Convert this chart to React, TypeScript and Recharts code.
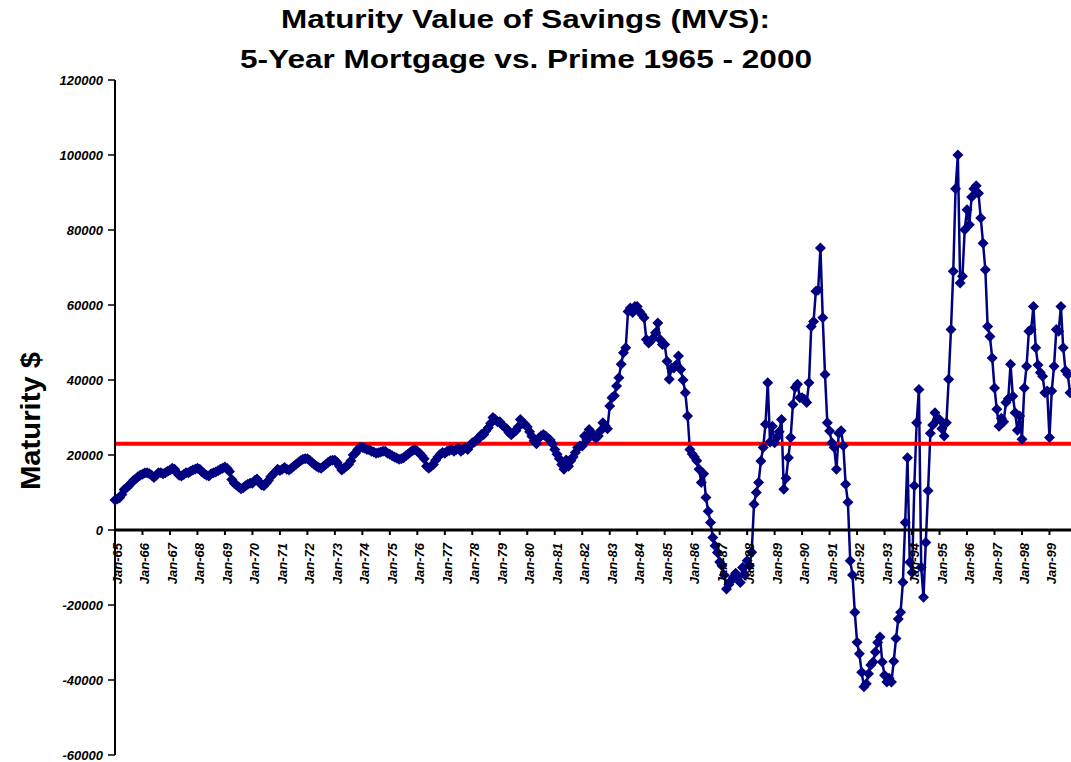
import { LineChart, Line, XAxis, YAxis, ReferenceLine } from 'recharts';

// monthly MVS values, Jan..Dec of each year
const mvs1965 = [8000, 8300, 8600, 9500, 10800, 11200, 11800, 12500, 13200, 13600, 14200, 14600];
const mvs1966 = [14900, 15200, 15300, 15000, 14600, 14000, 14600, 15300, 15300, 15000, 15300, 15700];
const mvs1967 = [16000, 16500, 16200, 15300, 14600, 14400, 14800, 15300, 15300, 15700, 16000, 16200];
const mvs1968 = [16500, 16200, 15500, 15000, 14600, 14400, 15000, 15300, 15500, 15800, 16200, 16500];
const mvs1969 = [16800, 16400, 15600, 13500, 12500, 12000, 11500, 11000, 11300, 11800, 12200, 12500];
const mvs1970 = [12500, 13200, 13600, 12800, 12000, 11800, 12500, 13200, 14200, 14900, 15500, 16200];
const mvs1971 = [15900, 16200, 16700, 16200, 16000, 16500, 17000, 17500, 18000, 18500, 18900, 19000];
const mvs1972 = [19000, 18600, 18000, 17500, 17000, 16700, 16500, 17000, 17500, 18000, 18500, 18600];
const mvs1973 = [18600, 18000, 17000, 16000, 16500, 17000, 17500, 18500, 20000, 20500, 21500, 22000];
const mvs1974 = [22000, 21800, 21500, 21400, 21000, 20800, 20500, 20600, 20800, 21000, 21000, 20500];
const mvs1975 = [20200, 19800, 19500, 19200, 18900, 19000, 19300, 19800, 20300, 20800, 21200, 21400];
const mvs1976 = [21000, 20500, 19800, 19000, 17000, 16500, 17000, 17500, 18600, 19500, 20200, 20700];
const mvs1977 = [20500, 21000, 21200, 21500, 21000, 21500, 21800, 21000, 21500, 22000, 21500, 22500];
const mvs1978 = [23300, 23500, 24200, 24500, 25500, 25500, 26500, 27300, 28500, 30000, 29500, 28900];
const mvs1979 = [28900, 28000, 27500, 27000, 26000, 25400, 26000, 26500, 27500, 29500, 28500, 28200];
const mvs1980 = [27500, 26200, 25000, 23800, 23000, 24500, 25100, 25500, 25100, 24500, 24000, 23000];
const mvs1981 = [21500, 20200, 19000, 17500, 16200, 18700, 17000, 18500, 19500, 20700, 22000, 22400];
const mvs1982 = [22400, 25100, 24000, 26800, 26000, 25000, 24500, 25100, 26500, 28600, 27800, 27000];
const mvs1983 = [33100, 35300, 35800, 38400, 40600, 44200, 47300, 48600, 58300, 59200, 58000, 59600];
const mvs1984 = [59600, 58300, 57500, 56600, 50800, 49900, 50500, 51200, 52600, 55200, 50800, 49500];
const mvs1985 = [49500, 45000, 40200, 43200, 43200, 44000, 46400, 42800, 40000, 36600, 30400, 21500];
const mvs1986 = [20300, 19500, 18500, 16200, 12700, 15000, 8700, 5000, 2000, -2000, -4200, -6000];
const mvs1987 = [-8500, -9500, -12000, -15700, -14500, -13500, -12500, -11500, -12500, -14000, -10000, -12000];
const mvs1988 = [-8200, -9500, -5900, 6900, 10000, 12700, 18400, 22000, 28200, 39300, 23500, 27700];
const mvs1989 = [23300, 24700, 26200, 29500, 10900, 13800, 19300, 24700, 33500, 38000, 38900, 35300];
const mvs1990 = [35300, 34900, 34000, 39300, 54300, 55600, 63700, 64000, 75200, 56600, 41500, 28600];
const mvs1991 = [26400, 23300, 22000, 16200, 25800, 26500, 22500, 12200, 7400, -8200, -12000, -21900];
const mvs1992 = [-29900, -33000, -37900, -41800, -41000, -38300, -36000, -35200, -32500, -30000, -28500, -35200];
const mvs1993 = [-38700, -40500, -39500, -40500, -35000, -28900, -23700, -21900, -13900, 2000, 19300, -8600];
const mvs1994 = [-11300, 11800, 28600, 37500, -9900, -17900, -3300, 10500, 25800, 28000, 31300, 29500];
const mvs1995 = [29500, 27000, 25100, 28600, 40200, 53500, 69000, 91000, 100000, 65900, 67700, 80100];
const mvs1996 = [85400, 81400, 88800, 91000, 91800, 89800, 83200, 76500, 69400, 54300, 51600, 45900];
const mvs1997 = [37900, 32200, 27700, 29800, 28900, 34000, 35000, 44200, 35700, 31300, 26600, 30400];
const mvs1998 = [24200, 37900, 43700, 53000, 53500, 59600, 48600, 44000, 42000, 41000, 36600, 37100];
const mvs1999 = [24700, 37100, 43700, 53500, 53000, 59600, 48600, 42500, 41500, 36600];

const years = [
  mvs1965, mvs1966, mvs1967, mvs1968, mvs1969, mvs1970, mvs1971, mvs1972, mvs1973, mvs1974,
  mvs1975, mvs1976, mvs1977, mvs1978, mvs1979, mvs1980, mvs1981, mvs1982, mvs1983, mvs1984,
  mvs1985, mvs1986, mvs1987, mvs1988, mvs1989, mvs1990, mvs1991, mvs1992, mvs1993, mvs1994,
  mvs1995, mvs1996, mvs1997, mvs1998, mvs1999,
];

const xTickLabels = [
  'Jan-65', 'Jan-66', 'Jan-67', 'Jan-68', 'Jan-69', 'Jan-70', 'Jan-71', 'Jan-72', 'Jan-73',
  'Jan-74', 'Jan-75', 'Jan-76', 'Jan-77', 'Jan-78', 'Jan-79', 'Jan-80', 'Jan-81', 'Jan-82',
  'Jan-83', 'Jan-84', 'Jan-85', 'Jan-86', 'Jan-87', 'Jan-88', 'Jan-89', 'Jan-90', 'Jan-91',
  'Jan-92', 'Jan-93', 'Jan-94', 'Jan-95', 'Jan-96', 'Jan-97', 'Jan-98', 'Jan-99',
];
const yTicks = [-60000, -40000, -20000, 0, 20000, 40000, 60000, 80000, 100000, 120000];
const primeLevel = 23000;

const data = years.flatMap((vals, yi) => vals.map((v, mi) => ({ m: yi * 12 + mi, mvs: v })));

const FONT = '"Liberation Sans", Arial, Helvetica, sans-serif';
const W = 1071;
const H = 762;
const X_AXIS_H = 7;
const MARGIN = { top: 80, right: 0, bottom: 0, left: 0 };
const PLOT_H = H - MARGIN.top - MARGIN.bottom - X_AXIS_H;
const Y_MIN = -60000;
const Y_MAX = 120000;
const ZERO_Y = MARGIN.top + (PLOT_H * Y_MAX) / (Y_MAX - Y_MIN);

// x labels sit on the zero line, not on the bottom of the plot
const XTick = (props: any) => {
  const { x, payload } = props;
  const label = xTickLabels[Math.round(payload.value / 12)];
  return (
    <g>
      <line x1={x} x2={x} y1={ZERO_Y} y2={ZERO_Y + 5} stroke="#000" strokeWidth={2} />
      <text
        transform={`translate(${x + 7},${ZERO_Y + 13}) rotate(-90)`}
        textAnchor="end"
        fontSize={13}
        fontWeight="bold"
        fontStyle="italic"
        fontFamily={FONT}
        fill="#000"
      >
        {label}
      </text>
    </g>
  );
};

const Diamond = (props: any) => {
  const { cx, cy, index } = props;
  if (cx == null || cy == null) return <g key={index} />;
  const r = 5.5;
  return (
    <path
      key={index}
      d={`M${cx},${cy - r}L${cx + r},${cy}L${cx},${cy + r}L${cx - r},${cy}Z`}
      fill="#000080"
    />
  );
};

export default function App() {
  return (
    <div style={{ position: 'absolute', left: 0, top: 0, width: W, height: H, background: '#fff', overflow: 'hidden' }}>
      <LineChart width={W} height={H} data={data} margin={MARGIN}>
        <XAxis
          type="number"
          dataKey="m"
          domain={[0, 417.4]}
          ticks={xTickLabels.map((_, i) => i * 12)}
          height={X_AXIS_H}
          axisLine={false}
          tickLine={false}
          tick={XTick}
          interval={0}
        />
        <YAxis
          type="number"
          domain={[Y_MIN, Y_MAX]}
          ticks={yTicks}
          width={115}
          interval={0}
          axisLine={{ stroke: '#000', strokeWidth: 2 }}
          tickLine={{ stroke: '#000', strokeWidth: 1.5 }}
          tickSize={7}
          tickMargin={5}
          tick={{ fill: '#000', fontSize: 13, fontWeight: 'bold', fontStyle: 'italic', fontFamily: FONT }}
        />
        <Line
          type="linear"
          dataKey="mvs"
          stroke="#000080"
          strokeWidth={2.5}
          dot={Diamond}
          activeDot={false}
          isAnimationActive={false}
        />
        <ReferenceLine y={0} stroke="#000" strokeWidth={3} />
        <ReferenceLine y={primeLevel} stroke="#ff0000" strokeWidth={4} />
      </LineChart>
      <svg width={W} height={H} style={{ position: 'absolute', left: 0, top: 0, pointerEvents: 'none' }}>
        <text x={281} y={28} fontSize={26} fontWeight="bold" fontFamily={FONT} textLength={489} lengthAdjust="spacingAndGlyphs" fill="#000">
          Maturity Value of Savings (MVS):
        </text>
        <text x={240} y={68} fontSize={26} fontWeight="bold" fontFamily={FONT} textLength={572} lengthAdjust="spacingAndGlyphs" fill="#000">
          5-Year Mortgage vs. Prime 1965 - 2000
        </text>
        <text
          transform="translate(40,421) rotate(-90)"
          textAnchor="middle"
          fontSize={28}
          fontWeight="bold"
          fontFamily={FONT}
          textLength={138}
          lengthAdjust="spacingAndGlyphs"
          fill="#000"
        >
          Maturity $
        </text>
      </svg>
    </div>
  );
}
